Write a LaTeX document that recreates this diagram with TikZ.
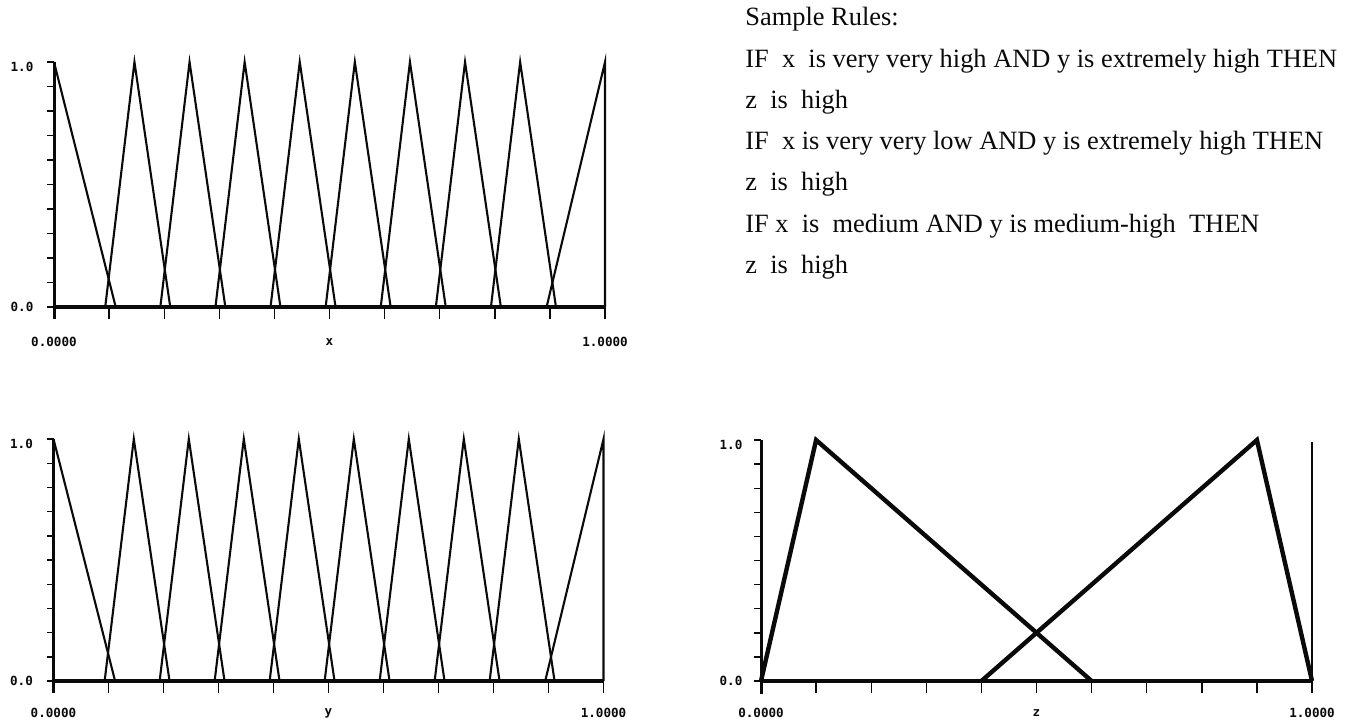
\documentclass[tikz,border=0pt]{standalone}
\usepackage{fontspec}
\setmainfont{Liberation Serif}
\newfontfamily\plotmono{DejaVu Sans Mono}
\usepackage{xcolor}
\usepackage{tikz}
\usetikzlibrary{positioning}
\definecolor{scanink}{HTML}{0A0A0A}
\tikzset{
  axisline/.style={draw=scanink, line width=1.5pt},
  baseline/.style={draw=scanink, line width=1.7pt},
  tickmark/.style={draw=scanink, line width=0.7pt},
  mfline/.style={draw=scanink, line width=1.05pt, line join=miter},
  mfthick/.style={draw=scanink, line width=2.2pt, line join=miter},
  ticklab/.style={font=\plotmono\bfseries\fontsize{6.3}{7}\selectfont,
    text=scanink, inner sep=0pt},
  rulestext/.style={font=\fontsize{13.2}{16}\selectfont, text=scanink,
    inner sep=0pt, anchor=base west},
}

\begin{document}
\begin{tikzpicture}[x=0.5pt, y=0.5pt]
  \useasboundingbox (0,0) rectangle (1347,719);

  % term set for x
  \begin{scope}[shift={(54,412)}, x=275.5pt, y=122.5pt]
    \foreach \i in {0,...,10} \draw[tickmark] (\i/10,0) -- ++(0,-6pt);
    \foreach \i in {0,...,10} \draw[tickmark] (0,\i/10) -- ++(-3.5pt,0);
    \draw[axisline] (0,-6pt) -- (0,1);
    \draw[baseline] (0,0) -- (1,0);
    \draw[mfline] (0,1) -- (0.112,0);
    \foreach \i in {1,...,8}
      \draw[mfline] (\i/10-0.007,0) -- (\i/10+0.046,1) -- (\i/10+0.111,0);
    \draw[mfline] (0.894,0) -- (1,1) -- (1,0);
    \node[ticklab, xshift=-16pt, yshift=-2.5pt] (xtop) at (0,1) {1.0};
    \node[ticklab, xshift=-16pt] (xbot) at (0,0) {0.0};
    \node[ticklab, yshift=-17.5pt] (xmin) at (0,0) {0.0000};
    \node[ticklab, yshift=-17.5pt] (xname) at (0.5,0) {x};
    \node[ticklab, yshift=-17.5pt] (xmax) at (1,0) {1.0000};
  \end{scope}

  % term set for y
  \begin{scope}[shift={(53.5,38)}, x=275pt, y=121pt]
    \foreach \i in {0,...,10} \draw[tickmark] (\i/10,0) -- ++(0,-6pt);
    \foreach \i in {0,...,10} \draw[tickmark] (0,\i/10) -- ++(-3.5pt,0);
    \draw[axisline] (0,-6pt) -- (0,1);
    \draw[baseline] (0,0) -- (1,0);
    \draw[mfline] (0,1) -- (0.112,0);
    \foreach \i in {1,...,8}
      \draw[mfline] (\i/10-0.007,0) -- (\i/10+0.046,1) -- (\i/10+0.111,0);
    \draw[mfline] (0.894,0) -- (1,1) -- (1,0);
    \node[ticklab, xshift=-16pt, yshift=-2.5pt] (ytop) at (0,1) {1.0};
    \node[ticklab, xshift=-16pt] (ybot) at (0,0) {0.0};
    \node[ticklab, yshift=-16pt] (ymin) at (0,0) {0.0000};
    \node[ticklab, yshift=-16pt] (yname) at (0.5,0) {y};
    \node[ticklab, yshift=-16pt] (ymax) at (1,0) {1.0000};
  \end{scope}

  % term set for z
  \begin{scope}[shift={(761,38)}, x=275.5pt, y=120.5pt]
    \foreach \i in {0,...,10} \draw[tickmark] (\i/10,0) -- ++(0,-6pt);
    \foreach \i in {0,...,10} \draw[tickmark] (0,\i/10) -- ++(-3.5pt,0);
    \draw[axisline] (0,-6.5pt) -- (0,1);
    \draw[baseline] (0,0) -- (1,0);
    \draw[mfthick] (0,0) -- (0.1,1) -- (0.6,0);
    \draw[mfthick] (0.4,0) -- (0.9,1) -- (1,0);
    \draw[mfline] (1,0) -- (1,0.99);
    \node[ticklab, xshift=-15pt, yshift=-2.5pt] (ztop) at (0,1) {1.0};
    \node[ticklab, xshift=-15pt] (zbot) at (0,0) {0.0};
    \node[ticklab, yshift=-16pt] (zmin) at (0,0) {0.0000};
    \node[ticklab, yshift=-16pt] (zname) at (0.5,0) {z};
    \node[ticklab, yshift=-16pt] (zmax) at (1,0) {1.0000};
  \end{scope}

  % rule text
  \node[rulestext] (title) at (745,693) {Sample Rules:};
  \node[rulestext] (r1a) at ([yshift=-20.6pt]title.base west)
    {IF\ \ x\ \ is very very high AND y is extremely high THEN};
  \node[rulestext] (r1b) at ([yshift=-20.6pt]r1a.base west) {z\ \ is\ \ high};
  \node[rulestext] (r2a) at ([yshift=-20.6pt]r1b.base west)
    {IF\ \ x is very very low AND y is extremely high THEN};
  \node[rulestext] (r2b) at ([yshift=-20.6pt]r2a.base west) {z\ \ is\ \ high};
  \node[rulestext] (r3a) at ([yshift=-20.6pt]r2b.base west)
    {IF x\ \ is\ \ medium AND y is medium-high\ \ THEN};
  \node[rulestext] (r3b) at ([yshift=-20.6pt]r3a.base west) {z\ \ is\ \ high};
\end{tikzpicture}
\end{document}
